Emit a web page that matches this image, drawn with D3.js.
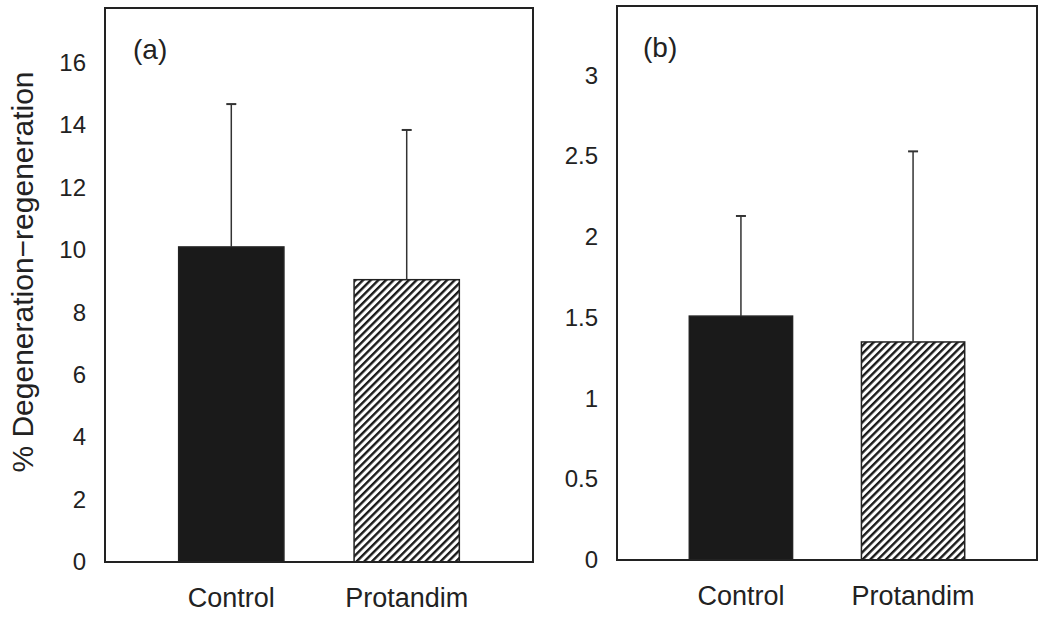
<!DOCTYPE html>
<html>
<head>
<meta charset="utf-8">
<script src="https://cdn.jsdelivr.net/npm/d3@7"></script>
<style>
  body { margin: 0; background: #fff; }
  text { font-family: "Liberation Sans", Arial, sans-serif; fill: #222; }
</style>
</head>
<body>
<svg id="chart" width="1050" height="633"></svg>
<script>
// ---- data ----
const categories = ["Control", "Protandim"];
const panelLabels = ["(a)", "(b)"];
const meansA = [10.1, 9.05];
const errorsA = [4.58, 4.8];
const meansB = [1.51, 1.35];
const errorsB = [0.62, 1.18];
const ticksA = [0, 2, 4, 6, 8, 10, 12, 14, 16];
const ticksB = [0, 0.5, 1, 1.5, 2, 2.5, 3];
const domainMaxA = 17.76;
const domainMaxB = 3.43;
const yTitle = "% Degeneration\u2212regeneration";

const svg = d3.select("#chart");

// hatch pattern
const defs = svg.append("defs");
const pat = defs.append("pattern")
  .attr("id", "hatch")
  .attr("patternUnits", "userSpaceOnUse")
  .attr("width", 5.4).attr("height", 10)
  .attr("patternTransform", "rotate(45)");
pat.append("rect").attr("width", 5.4).attr("height", 10).attr("fill", "#fff");
pat.append("line").attr("x1", 1.2).attr("x2", 1.2).attr("y1", 0).attr("y2", 10)
  .attr("stroke", "#1a1a1a").attr("stroke-width", 2.4);

const panels = [
  { left: 105, right: 533, top: 8, bottom: 562, means: meansA, errs: errorsA, ticks: ticksA, max: domainMaxA, label: panelLabels[0], labelX: 133, fmt: d3.format("d") },
  { left: 617, right: 1037, top: 6, bottom: 560, means: meansB, errs: errorsB, ticks: ticksB, max: domainMaxB, label: panelLabels[1], labelX: 643, fmt: d => String(d) }
];

panels.forEach((p) => {
  const g = svg.append("g");
  const x = d3.scaleBand().domain(categories).range([p.left, p.right])
    .paddingInner(0.4).paddingOuter(0.42);
  const y = d3.scaleLinear().domain([0, p.max]).range([p.bottom, p.top]);

  // bars
  g.selectAll("rect.bar").data(categories).join("rect")
    .attr("class", "bar")
    .attr("x", d => x(d))
    .attr("width", x.bandwidth())
    .attr("y", (d, i) => y(p.means[i]))
    .attr("height", (d, i) => y(0) - y(p.means[i]))
    .attr("fill", (d, i) => i === 0 ? "#1a1a1a" : "url(#hatch)")
    .attr("stroke", "#222").attr("stroke-width", 1.5);

  // error bars
  g.selectAll("line.err").data(categories).join("line")
    .attr("x1", d => x(d) + x.bandwidth() / 2)
    .attr("x2", d => x(d) + x.bandwidth() / 2)
    .attr("y1", (d, i) => y(p.means[i]))
    .attr("y2", (d, i) => y(p.means[i] + p.errs[i]))
    .attr("stroke", "#333").attr("stroke-width", 1.5);
  g.selectAll("line.cap").data(categories).join("line")
    .attr("x1", d => x(d) + x.bandwidth() / 2 - 5)
    .attr("x2", d => x(d) + x.bandwidth() / 2 + 5)
    .attr("y1", (d, i) => y(p.means[i] + p.errs[i]))
    .attr("y2", (d, i) => y(p.means[i] + p.errs[i]))
    .attr("stroke", "#333").attr("stroke-width", 2);

  // frame
  g.append("rect")
    .attr("x", p.left).attr("y", p.top)
    .attr("width", p.right - p.left).attr("height", p.bottom - p.top)
    .attr("fill", "none").attr("stroke", "#222").attr("stroke-width", 2);

  // y axis labels (no tick marks)
  const yAxis = d3.axisLeft(y).tickValues(p.ticks).tickFormat(p.fmt).tickSize(0).tickPadding(19);
  const ya = g.append("g").attr("transform", `translate(${p.left},0)`).call(yAxis);
  ya.select(".domain").remove();
  ya.selectAll("text").style("font-size", "24px").style("font-family", "Liberation Sans, Arial, sans-serif").attr("fill", "#222");

  // x axis labels
  const xAxis = d3.axisBottom(x).tickSize(0).tickPadding(26);
  const xa = g.append("g").attr("transform", `translate(0,${p.bottom})`).call(xAxis);
  xa.select(".domain").remove();
  xa.selectAll("text").style("font-size", "27px").style("font-family", "Liberation Sans, Arial, sans-serif").attr("fill", "#222");

  // panel label
  g.append("text").attr("x", p.labelX).attr("y", p.top + 51)
    .style("font-size", "28px").text(p.label);
});

// y axis title
svg.append("text")
  .attr("transform", "translate(33,272) rotate(-90)")
  .attr("text-anchor", "middle")
  .style("font-size", "30px")
  .text(yTitle);
</script>
</body>
</html>
